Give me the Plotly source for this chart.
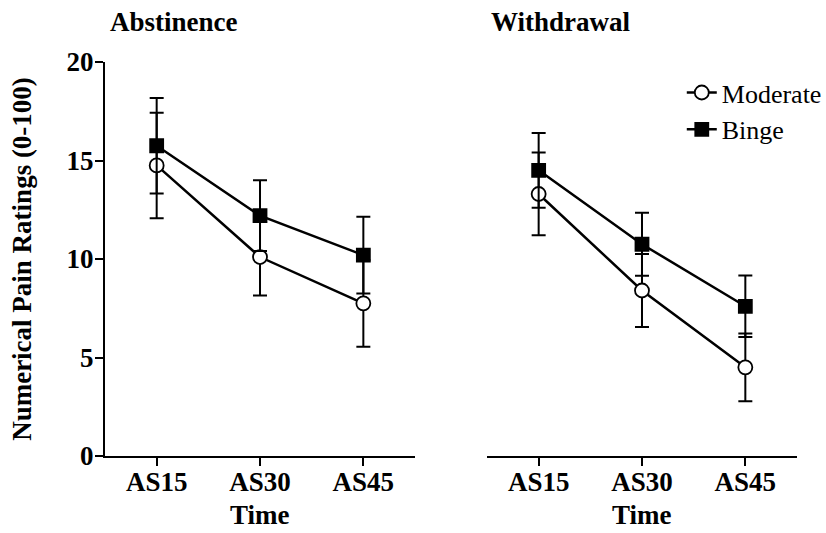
import plotly.graph_objects as go

categories = ["AS15", "AS30", "AS45"]

abst_moderate = [14.75, 10.1, 7.75]
abst_moderate_se = [2.68, 1.95, 2.2]
abst_binge = [15.75, 12.2, 10.2]
abst_binge_se = [2.42, 1.8, 1.95]

withd_moderate = [13.3, 8.4, 4.5]
withd_moderate_se = [2.1, 1.85, 1.72]
withd_binge = [14.5, 10.75, 7.6]
withd_binge_se = [1.9, 1.6, 1.56]

xpos = list(range(len(categories)))
FONT = "Liberation Serif"
FS = 27

fig = go.Figure()

def add_series(x_axis, y_axis, y, se, name, symbol, fill, showlegend):
    fig.add_trace(go.Scatter(
        x=xpos, y=y, name=name, mode="lines+markers",
        xaxis=x_axis, yaxis=y_axis, showlegend=showlegend,
        line=dict(color="black", width=2.5),
        marker=dict(symbol=symbol, size=14 if symbol == "circle" else 13,
                    color=fill, line=dict(color="black", width=1.8)),
        error_y=dict(type="data", array=se, visible=True, color="black",
                     thickness=2, width=7),
    ))

add_series("x", "y", abst_moderate, abst_moderate_se, "Moderate", "circle", "white", True)
add_series("x", "y", abst_binge, abst_binge_se, "Binge", "square", "black", True)
add_series("x2", "y2", withd_moderate, withd_moderate_se, "Moderate", "circle", "white", False)
add_series("x2", "y2", withd_binge, withd_binge_se, "Binge", "square", "black", False)

xaxis_common = dict(
    range=[-0.5, 2.5], tickvals=xpos, ticktext=categories, automargin=False,
    showline=True, linecolor="black", linewidth=2, ticks="outside",
    ticklen=8, tickwidth=2, tickcolor="black", showgrid=False, zeroline=False,
    ticklabelstandoff=-7,
    tickfont=dict(family=FONT, size=FS, color="black", weight="bold"),
)

time_y = -(515 - 456) / 394
title_y = 1 + (62 - 22) / 394

fig.update_layout(
    width=826, height=533,
    font=dict(family=FONT, color="black"),
    margin=dict(l=105, r=29, t=62, b=77, autoexpand=False),
    plot_bgcolor="white", paper_bgcolor="white",
    xaxis=dict(domain=[0, 0.448], **xaxis_common),
    xaxis2=dict(domain=[0.552, 1], anchor="y2", **xaxis_common),
    yaxis=dict(
        range=[0, 20], tickvals=[0, 5, 10, 15, 20], showline=True, automargin=False,
        linecolor="black", linewidth=2, ticks="outside", ticklen=8, tickwidth=2,
        tickcolor="black", showgrid=False, zeroline=False, ticklabelstandoff=-4,
        tickfont=dict(family=FONT, size=FS, color="black", weight="bold"),
        title=dict(text="<b>Numerical Pain Ratings (0-100)</b>",
                   font=dict(family=FONT, size=FS, color="black"), standoff=27),
    ),
    yaxis2=dict(range=[0, 20], anchor="x2", visible=False),
    showlegend=True,
    legend=dict(x=0.8335, y=0.982, xanchor="left", yanchor="top",
                font=dict(family=FONT, size=26, color="black"),
                bgcolor="rgba(0,0,0,0)", tracegroupgap=0),
    annotations=[
        dict(text="<b>Abstinence</b>", xref="paper", yref="paper",
             x=(174 - 105) / 692, y=title_y, xanchor="center", yanchor="middle",
             showarrow=False, font=dict(family=FONT, size=FS, color="black")),
        dict(text="<b>Withdrawal</b>", xref="paper", yref="paper",
             x=(561 - 105) / 692, y=title_y, xanchor="center", yanchor="middle",
             showarrow=False, font=dict(family=FONT, size=FS, color="black")),
        dict(text="<b>Time</b>", xref="x domain", yref="paper", borderpad=0,
             x=0.5, y=time_y, xanchor="center", yanchor="middle",
             showarrow=False, font=dict(family=FONT, size=FS, color="black")),
        dict(text="<b>Time</b>", xref="x2 domain", yref="paper", borderpad=0,
             x=0.5, y=time_y, xanchor="center", yanchor="middle",
             showarrow=False, font=dict(family=FONT, size=FS, color="black")),
    ],
)

fig.write_html("out.html")
